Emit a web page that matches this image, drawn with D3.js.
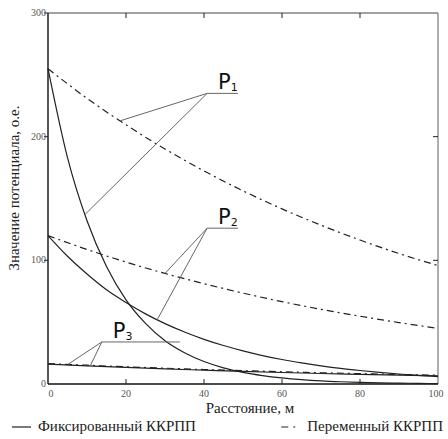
<!DOCTYPE html>
<html>
<head>
<meta charset="utf-8">
<script src="https://cdn.jsdelivr.net/npm/d3@7"></script>
<style>
  body { margin: 0; background: #fff; }
  svg { display: block; }
  .serif { font-family: 'Liberation Serif', 'DejaVu Serif', 'Tinos', 'Noto Serif', 'Times New Roman', Times, serif; }
</style>
</head>
<body>
<div id="chart"></div>
<script>
// значения
const xFine = [0,5,10,15,20,25,30,35,40,45,50,55,60,65,70,75,80,85,90,95,100];
const xCoarse = [0,10,20,30,40,50,60,70,80,90,100];

// фиксированный ККРПП (сплошные)
const fixedP1 = [255,183,132,95,68,49,35,25.3,18.2,13.1,9.4,6.8,4.9,3.5,2.5,1.8,1.3,0.9,0.7,0.5,0.3];
const fixedP2 = [120,103.3,88.9,76.2,65.9,56.7,48.8,42,36.1,31.1,26.8,23,19.8,17.1,14.7,12.6,10.9,9.4,8.1,6.9,6];
const fixedP3 = [16,14.6,13.4,12.2,11.2,10.2,9.3,8.5,7.8,7.1,6.5];

// переменный ККРПП (штрихпунктир)
const varP1 = [255,231,209.6,190,172.3,156.2,141.6,128.4,116.4,105.5,95.7];
const varP2 = [120,108.8,98.6,89.4,81.1,73.5,66.6,60.4,54.8,49.7,45];
const varP3 = [16.5,15.2,13.9,12.8,11.7,10.8,9.9,9.1,8.4,7.7,7.1];

const xTicks = [0,20,40,60,80,100];
const yTicks = [0,100,200,300];

// выноски: узел, конец полки, точки на кривых
const callouts = [
  { label: '1', node: [40.8, 235], shelf: 48.7, ends: [[18.5, varP1, xCoarse], [9.5, fixedP1, xFine]] },
  { label: '2', node: [40.8, 126], shelf: 48.7, ends: [[30, varP2, xCoarse], [28, fixedP2, xFine]] },
  { label: '3', node: [13.8, 34], shelf: 33.8, ends: [[5.1, varP3, xCoarse], [10.8, fixedP3, xCoarse]] }
];

const W = 448, H = 439;
const margin = { top: 13, right: 10, bottom: 55, left: 48 };

const svg = d3.select('#chart').append('svg')
  .attr('width', W)
  .attr('height', H);

const x = d3.scaleLinear().domain([0, 100]).range([margin.left, W - margin.right]);
const y = d3.scaleLinear().domain([0, 300]).range([H - margin.bottom, margin.top]);

const x0 = x(0), x1 = x(100), y0 = y(0), y1 = y(300);

// рамка
svg.append('line').attr('x1', x0).attr('x2', x1).attr('y1', y1).attr('y2', y1)
  .attr('stroke', '#444').attr('stroke-width', 1.2);
svg.append('line').attr('x1', x1).attr('x2', x1).attr('y1', y1).attr('y2', y0)
  .attr('stroke', '#777').attr('stroke-width', 1.2);
svg.append('line').attr('x1', x0).attr('x2', x0).attr('y1', y1).attr('y2', y0)
  .attr('stroke', '#111').attr('stroke-width', 1.4);
svg.append('line').attr('x1', x0).attr('x2', x1).attr('y1', y0).attr('y2', y0)
  .attr('stroke', '#111').attr('stroke-width', 1.4);

// засечки
const tickG = svg.append('g').attr('stroke', '#222').attr('stroke-width', 1);
xTicks.slice(1, -1).forEach(t => {
  tickG.append('line').attr('x1', x(t)).attr('x2', x(t)).attr('y1', y0).attr('y2', y0 - 5);
  tickG.append('line').attr('x1', x(t)).attr('x2', x(t)).attr('y1', y1).attr('y2', y1 + 5);
});
yTicks.slice(1).forEach(t => {
  tickG.append('line').attr('x1', x0).attr('x2', x0 - 4).attr('y1', y(t)).attr('y2', y(t));
  if (t < 300) tickG.append('line').attr('x1', x1).attr('x2', x1 - 5).attr('y1', y(t)).attr('y2', y(t));
});

// подписи засечек
svg.append('g').selectAll('text').data(yTicks).enter().append('text')
  .attr('class', 'serif')
  .attr('x', x0 - 2).attr('y', d => y(d) + 3)
  .attr('text-anchor', 'end')
  .style('font-size', '10px').style('fill', '#555')
  .text(d => d);
svg.append('g').selectAll('text').data(xTicks).enter().append('text')
  .attr('class', 'serif')
  .attr('x', d => d === 0 ? x(d) + 3 : x(d) - (d === 100 ? 2 : 0))
  .attr('y', y0 + 13)
  .attr('text-anchor', 'middle')
  .style('font-size', '10px').style('fill', '#555')
  .text(d => d);

// подписи осей
svg.append('text')
  .attr('class', 'serif')
  .attr('x', 250).attr('y', y0 + 29)
  .attr('text-anchor', 'middle')
  .style('font-size', '15px').style('fill', '#222')
  .text('Расстояние, м');
svg.append('text')
  .attr('class', 'serif')
  .attr('transform', `translate(19,188) rotate(-90)`)
  .attr('text-anchor', 'middle')
  .style('font-size', '15px').style('fill', '#222')
  .text('Значение потенциала, о.е.');

// кривые
const line = d3.line().x(d => x(d[0])).y(d => y(d[1])).curve(d3.curveMonotoneX);
const dashDot = '7,4,2,4';

const series = [
  { xs: xCoarse, ys: varP1, dash: dashDot },
  { xs: xCoarse, ys: varP2, dash: dashDot },
  { xs: xCoarse, ys: varP3, dash: dashDot },
  { xs: xFine, ys: fixedP1, dash: null },
  { xs: xFine, ys: fixedP2, dash: null },
  { xs: xCoarse, ys: fixedP3, dash: null }
];
series.forEach(s => {
  svg.append('path')
    .datum(s.xs.map((v, i) => [v, s.ys[i]]))
    .attr('d', line)
    .attr('fill', 'none')
    .attr('stroke', '#222')
    .attr('stroke-width', 1.2)
    .attr('stroke-dasharray', s.dash);
});

// выноски P1..P3
const valueAt = (xv, xs, ys) => d3.scaleLinear().domain(xs).range(ys)(xv);
callouts.forEach(c => {
  const g = svg.append('g').attr('stroke', '#666').attr('stroke-width', 1);
  const nx = x(c.node[0]), ny = y(c.node[1]);
  g.append('line').attr('x1', nx).attr('x2', x(c.shelf)).attr('y1', ny).attr('y2', ny);
  c.ends.forEach(e => {
    g.append('line').attr('x1', nx).attr('y1', ny)
      .attr('x2', x(e[0])).attr('y2', y(valueAt(e[0], e[2], e[1])));
  });
  const t = svg.append('text')
    .attr('x', nx + 11).attr('y', ny - 4)
    .style('font-family', '"DejaVu Sans", sans-serif').style('fill', '#111');
  t.append('tspan').style('font-size', '21px').text('P');
  t.append('tspan').style('font-size', '11px').attr('dy', 2).text(c.label);
});

// легенда
const ly = 431;
svg.append('line').attr('x1', 12).attr('x2', 31).attr('y1', ly - 4).attr('y2', ly - 4)
  .attr('stroke', '#222').attr('stroke-width', 1.2);
svg.append('text').attr('class', 'serif').attr('x', 38).attr('y', ly)
  .style('font-size', '15px').style('fill', '#222')
  .text('Фиксированный ККРПП');
const leg2 = svg.append('text').attr('class', 'serif').attr('x', 443).attr('y', ly)
  .attr('text-anchor', 'end')
  .style('font-size', '15px').style('fill', '#222')
  .text('Переменный ККРПП');
const lx = leg2.node().getBBox().x;
svg.append('line').attr('x1', lx - 26).attr('x2', lx - 6).attr('y1', ly - 4).attr('y2', ly - 4)
  .attr('stroke', '#222').attr('stroke-width', 1.2).attr('stroke-dasharray', '7,5,2,6');
</script>
</body>
</html>
